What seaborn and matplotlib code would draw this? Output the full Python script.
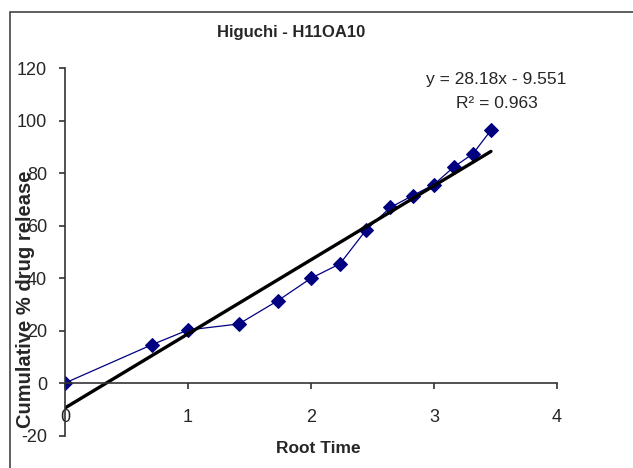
import numpy as np
import pandas as pd
import matplotlib
matplotlib.use("Agg")
import matplotlib.pyplot as plt
import seaborn as sns
from matplotlib.patches import Rectangle

root_time = [0, 0.707, 1.0, 1.414, 1.732, 2.0, 2.236, 2.449, 2.646, 2.828, 3.0, 3.162, 3.317, 3.464]
release = [0, 14.6, 20.2, 22.5, 31.4, 39.9, 45.4, 58.3, 66.9, 71.4, 75.6, 82.3, 87.3, 96.3]
x_ticks = [0, 1, 2, 3, 4]
y_ticks = [-20, 0, 20, 40, 60, 80, 100, 120]
title = "Higuchi - H11OA10"
eq_line = "y = 28.18x - 9.551"
r2_line = "R² = 0.963"

df = pd.DataFrame({"Root Time": root_time, "Release": release})

sns.set_style("white")
plt.rcParams['font.family'] = ['Liberation Sans', 'DejaVu Sans']

fig = plt.figure(figsize=(6.33, 4.68), dpi=100)
ax = fig.add_axes([0.1027, 0.0694, 0.777, 0.7853])

sns.lineplot(data=df, x="Root Time", y="Release", ax=ax, color="#000080",
             marker="D", markersize=7, markeredgecolor="#000080",
             linewidth=0.9, estimator=None)
sns.regplot(data=df, x="Root Time", y="Release", ax=ax, scatter=False, ci=None,
            truncate=True, line_kws={"color": "black", "linewidth": 2.4})

ax.set_xlim(0, 4)
ax.set_ylim(-20, 120)
ax.set_xticks(x_ticks)
ax.set_yticks(y_ticks)
ax.set_xticklabels([str(t) for t in x_ticks])
ax.set_yticklabels([str(t) for t in y_ticks])

for s in ["top", "right"]:
    ax.spines[s].set_visible(False)
ax.spines["bottom"].set_position(("data", 0))
ax.spines["left"].set_position(("data", 0))
for s in ["bottom", "left"]:
    ax.spines[s].set_color("#333333")
    ax.spines[s].set_linewidth(1.2)

ax.tick_params(axis="y", direction="out", length=4, width=1.2, color="#333333",
               pad=9, labelsize=13, left=True)
ax.tick_params(axis="x", direction="out", length=4, width=1.2, color="#333333",
               pad=15, labelsize=13, bottom=True)

ax.set_xlabel("Root Time", fontsize=12.5, fontweight="bold")
ax.xaxis.set_label_coords(0.514, -0.015)
ax.set_ylabel("Cumulative % drug release", fontsize=14.5, fontweight="bold")
ax.yaxis.set_label_coords(-0.061, 0.371)

fig.text(291 / 633, 1 - 33 / 468, title, ha="center", va="center",
         fontsize=12, fontweight="bold")
ax.text(3.51, 115.8, eq_line, ha="center", va="center", fontsize=12.5)
ax.text(3.51, 106.3, r2_line, ha="center", va="center", fontsize=12.5)

fig.patches.append(Rectangle((10 / 633, -0.1), 1.2, 1 - 12 / 468 + 0.1,
                             transform=fig.transFigure, fill=False,
                             edgecolor="#444444", linewidth=1.2))

fig.savefig("out.png", dpi=100)
